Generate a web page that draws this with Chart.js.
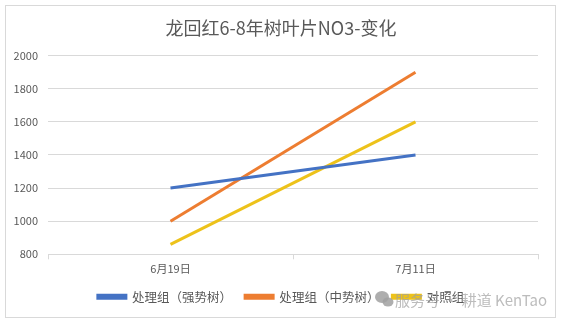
<!DOCTYPE html>
<html><head><meta charset="utf-8">
<script src="https://cdn.jsdelivr.net/npm/chart.js@4/dist/chart.umd.min.js"></script>
<style>html,body{margin:0;padding:0;background:#fff}#wrap{position:absolute;left:0;top:0;width:562px;height:323px}</style>
</head><body><div id="wrap"><canvas id="c" width="562" height="323"></canvas></div>
<script>
const categories = ['6月19日', '7月11日'];
const seriesNames = ['处理组（强势树）', '处理组（中势树）', '对照组'];
const strong = [1200, 1400];
const medium = [1000, 1900];
const control = [860, 1600];
const yTicks = [800, 1000, 1200, 1400, 1600, 1800, 2000];
const colors = ['#4472C4', '#ED7D31', '#EDC21A'];
const FONT = '"Noto Sans CJK SC", "Microsoft YaHei", sans-serif';

const frame = {
  id: 'frame',
  beforeDraw(chart) {
    const ctx = chart.ctx;
    ctx.save();
    ctx.fillStyle = '#fff';
    ctx.fillRect(0, 0, chart.width, chart.height);
    ctx.strokeStyle = '#d9d9d9';
    ctx.lineWidth = 1;
    ctx.strokeRect(5.5, 5.5, 550, 312);
    ctx.restore();
  },
  afterLayout(chart) {
    const lg = chart.legend;
    if (lg) { lg.left += 10; lg.right += 10; }
    const tt = chart.titleBlock;
    if (tt) { tt.left += 10; tt.right += 10; }
  },
  afterDraw(chart) {
    const ctx = chart.ctx;
    ctx.save();
    ctx.fillStyle = 'rgba(160,160,160,0.85)';
    ctx.beginPath(); ctx.ellipse(382, 297, 7, 6, 0, 0, Math.PI * 2); ctx.fill();
    ctx.beginPath(); ctx.ellipse(388, 302, 5.5, 4.5, 0, 0, Math.PI * 2); ctx.fill();
    ctx.fillStyle = 'rgba(160,160,160,0.7)';
    ctx.font = '15px ' + FONT;
    ctx.textBaseline = 'middle';
    ctx.fillText('服务号 · 耕道 KenTao', 395, 300);
    ctx.restore();
  }
};

new Chart(document.getElementById('c'), {
  type: 'line',
  data: {
    labels: categories,
    datasets: [
      { label: seriesNames[0], data: strong, borderColor: colors[0], backgroundColor: colors[0] },
      { label: seriesNames[1], data: medium, borderColor: colors[1], backgroundColor: colors[1] },
      { label: seriesNames[2], data: control, borderColor: colors[2], backgroundColor: colors[2] }
    ]
  },
  options: {
    responsive: false,
    animation: false,
    layout: { padding: { left: 4, right: 24, top: 8, bottom: 10 } },
    elements: { line: { borderWidth: 3, tension: 0 }, point: { radius: 0 } },
    plugins: {
      title: {
        display: true, text: '龙回红6-8年树叶片NO3-变化', color: '#595959',
        font: { family: FONT, size: 18, weight: 'normal' }, padding: { top: 9, bottom: 17 }
      },
      legend: {
        position: 'bottom',
        labels: {
          color: '#595959', font: { family: FONT, size: 12.5 },
          boxWidth: 28, boxHeight: 3, padding: 13
        }
      },
      tooltip: { enabled: false }
    },
    scales: {
      x: {
        offset: true,
        afterFit(axis) { axis.height -= 1; },
        grid: { display: true, drawOnChartArea: false, offset: true, color: '#d9d9d9', tickLength: 5 },
        border: { color: '#d9d9d9' },
        ticks: { color: '#595959', font: { family: FONT, size: 11 }, padding: 3 }
      },
      y: {
        min: 800, max: 2000,
        afterFit(axis) { axis.width = 44; },
        grid: { color: '#d9d9d9', drawTicks: false },
        border: { display: false },
        afterBuildTicks(axis) { axis.ticks = yTicks.map(v => ({ value: v })); },
        ticks: { color: '#595959', font: { family: FONT, size: 11 }, padding: 10, callback: v => String(v) }
      }
    }
  },
  plugins: [frame]
});
</script></body></html>
